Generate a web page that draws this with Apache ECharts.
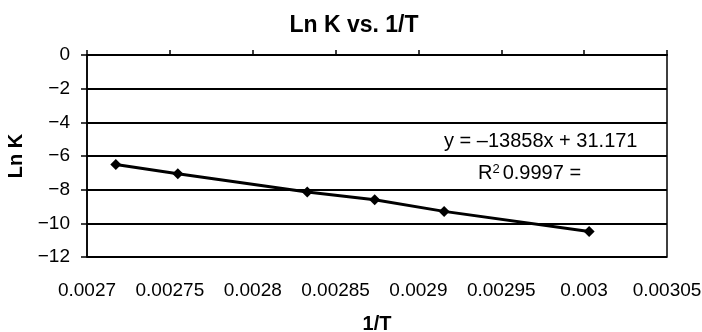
<!DOCTYPE html>
<html>
<head>
<meta charset="utf-8">
<script src="https://cdn.jsdelivr.net/npm/echarts@6/dist/echarts.min.js"></script>
<style>
  html, body { margin: 0; padding: 0; background: #fff; }
  #chart { width: 702px; height: 332px; }
</style>
</head>
<body>
<div id="chart"></div>
<script>
// Reciprocal temperature (1/K) and natural log of the rate constant
var invT = [0.0027174, 0.0027548, 0.0028329, 0.0028736, 0.0029155, 0.0030030];
var lnK = [-6.50, -7.05, -8.14, -8.60, -9.29, -10.48];

// Axis ranges and tick steps
var xMin = 0.0027, xMax = 0.00305, xStep = 0.00005;
var yMin = -12, yMax = 0, yStep = 2;

// Regression text shown in the plot
var fitEquation = 'y = \u201313858x + 31.171';
var fitR2 = '0.9997 =';

var FONT = "'Liberation Sans', Arial, Helvetica, sans-serif";

var points = invT.map(function (x, i) { return [x, lnK[i]]; });

function fmtX(v) { return String(+v.toFixed(5)); }
function fmtY(v) { return v < 0 ? '\u2212' + Math.abs(v) : String(v); }

var chart = echarts.init(document.getElementById('chart'));
chart.setOption({
  animation: false,
  backgroundColor: '#fff',
  title: {
    text: 'Ln K vs. 1/T',
    left: 349,
    top: 9,
    textAlign: 'center',
    textStyle: { fontFamily: FONT, fontWeight: 'bold', fontSize: 23, color: '#000' }
  },
  grid: {
    left: 87, right: 35, top: 55, bottom: 75,
    containLabel: false, outerBoundsMode: 'none',
    show: true, borderColor: '#000', borderWidth: 1.5, backgroundColor: 'transparent'
  },
  xAxis: [
    {
      // line with tick marks along the zero level
      type: 'value', position: 'top', min: xMin, max: xMax, interval: xStep,
      axisLine: { show: true, lineStyle: { color: '#000', width: 2 } },
      axisTick: { show: true, inside: false, length: 5, lineStyle: { color: '#000', width: 1.5 } },
      axisLabel: { show: false },
      splitLine: { show: false }
    },
    {
      // tick labels and title under the plot
      type: 'value', position: 'bottom', min: xMin, max: xMax, interval: xStep,
      axisLine: { show: false }, axisTick: { show: false }, splitLine: { show: false },
      axisLabel: { margin: 24, formatter: fmtX, fontFamily: FONT, fontSize: 19, color: '#000' },
      name: '1/T', nameLocation: 'middle', nameGap: 57,
      nameTextStyle: { fontFamily: FONT, fontWeight: 'bold', fontSize: 20, color: '#000' }
    }
  ],
  yAxis: {
    type: 'value', min: yMin, max: yMax, interval: yStep,
    axisLine: { show: true, lineStyle: { color: '#000', width: 1.5 } },
    axisTick: { show: true, inside: false, length: 6, lineStyle: { color: '#000', width: 1.5 } },
    axisLabel: { margin: 17, formatter: fmtY, fontFamily: FONT, fontSize: 19, color: '#000' },
    splitLine: { show: true, lineStyle: { color: '#000', width: 2 } },
    name: 'Ln K', nameLocation: 'middle', nameGap: 53, nameRotate: 90,
    nameTextStyle: { fontFamily: FONT, fontWeight: 'bold', fontSize: 20, color: '#000' }
  },
  series: [{
    type: 'line',
    xAxisIndex: 1,
    data: points,
    symbol: 'diamond',
    symbolSize: 11,
    lineStyle: { color: '#000', width: 3 },
    itemStyle: { color: '#000' }
  }],
  graphic: [
    {
      type: 'text', left: 444, top: 131,
      style: { text: fitEquation, font: '20px ' + FONT, fill: '#000' }
    },
    {
      type: 'text', left: 478, top: 163,
      style: {
        text: 'R{sup|2}' + fitR2,
        font: '20px ' + FONT, fill: '#000',
        rich: { sup: { fontSize: 13, verticalAlign: 'top', padding: [0, 3, 8, 0], fontFamily: FONT } }
      }
    }
  ]
});
</script>
</body>
</html>
